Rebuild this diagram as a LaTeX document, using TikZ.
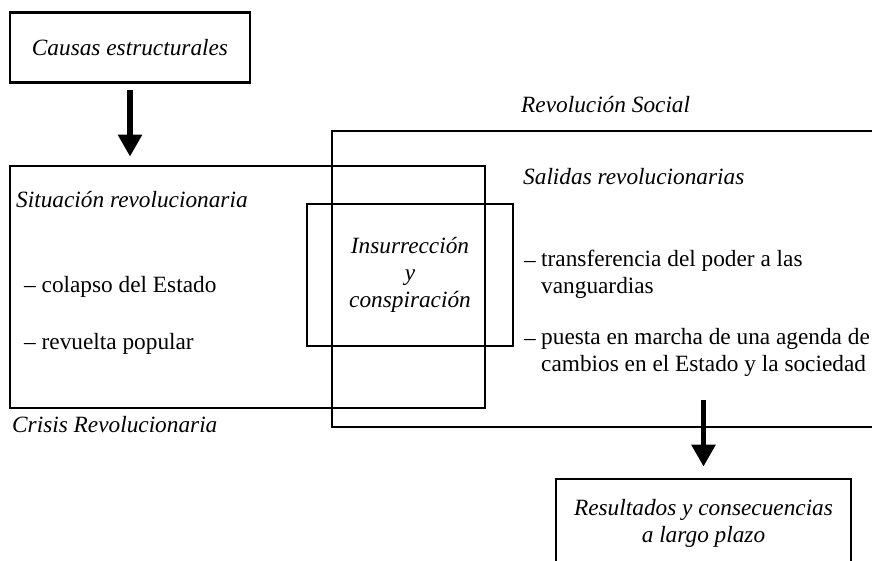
\documentclass[tikz,border=0pt]{standalone}
\usepackage{fontspec}
\setmainfont{Liberation Serif}
\usetikzlibrary{arrows.meta}

\tikzstyle{every node}=[font=\fontsize{23.3}{27}\selectfont, inner sep=0pt]
\tikzstyle{box}=[rectangle, draw, line width=2.7pt]
\tikzstyle{titletext}=[anchor=base west, font=\fontsize{23.3}{27}\selectfont\itshape]
\tikzstyle{itemtext}=[anchor=base west]
\tikzstyle{bigarrow}=[line width=5.5pt, -{Triangle[width=23pt,length=22pt]}]

\begin{document}
\begin{tikzpicture}[x=1pt,y=-1pt]
    \useasboundingbox (0,0) rectangle (872,561);
    \clip (0,0) rectangle (872,561);
    % boxes
    \node[box, minimum width=240pt, minimum height=70pt, font=\fontsize{23.3}{27}\selectfont\itshape] (causas) at (130,47.5) {Causas estructurales};
    \node[box, minimum width=475pt, minimum height=242pt] (crisis) at (247.5,287) {};
    \node[box, minimum width=568pt, minimum height=296pt] (revolucion) at (616,279) {};
    \node[box, minimum width=206pt, minimum height=142pt, align=center, font=\fontsize{23.3}{27}\selectfont\itshape] (insurreccion) at (410,275) {Insurrección\\y\\conspiración};
    \node[box, minimum width=295pt, minimum height=89pt, align=center, font=\fontsize{23.3}{27}\selectfont\itshape] (resultados) at (703.5,523.5) {Resultados y consecuencias\\a largo plazo};
    % titles
    \node[titletext] (revsocial) at (521,113) {Revolución Social};
    \node[titletext] (salidas) at (523,185) {Salidas revolucionarias};
    \node[titletext] (situacion) at (16,208) {Situación revolucionaria};
    \node[titletext] (crisistxt) at (12,432) {Crisis Revolucionaria};
    % lists (base of a two-line node = its last line)
    \node[itemtext] (colapso) at (24,292) {– colapso del Estado};
    \node[itemtext] (revuelta) at (24,349) {– revuelta popular};
    \node[itemtext] (guion1) at (524,267) {–};
    \node[itemtext, align=left] (transferencia) at (541,293) {transferencia del poder a las\\vanguardias};
    \node[itemtext] (guion2) at (524,345) {–};
    \node[itemtext, align=left] (puesta) at (541,371) {puesta en marcha de una agenda de\\cambios en el Estado y la sociedad};
    \coordinate (salida) at (703.5,400);
    \path[draw]
    (causas) edge[bigarrow, shorten <=6pt, shorten >=8pt] (causas |- crisis.north)
    (salida) edge[bigarrow, shorten >=11pt] (resultados)
	;
  \end{tikzpicture}
\end{document}
